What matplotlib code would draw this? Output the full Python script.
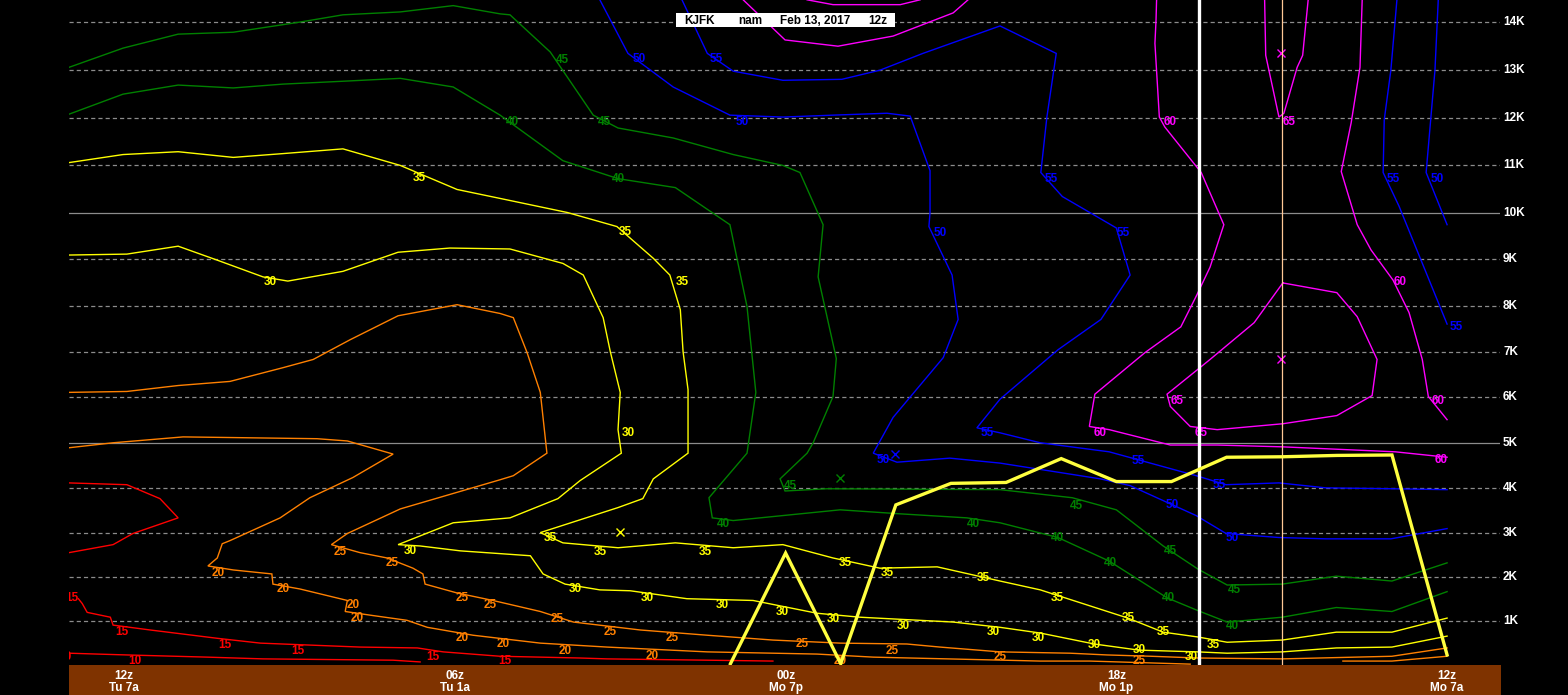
import numpy as np
import matplotlib
matplotlib.use("Agg")
import matplotlib.pyplot as plt
from matplotlib.transforms import blended_transform_factory
from matplotlib.patches import Rectangle

plt.rcParams['lines.scale_dashes'] = False

# ---------------- data (hours before valid end = Mon 12z, heights in kft) ----------------
c10_hr = [25.0, 24.49, 23.95, 22.49, 21.48, 19.12, 18.63]
c10_kft = [0.27, 0.25, 0.23, 0.18, 0.14, 0.11, 0.07]

c15a_hr = [25.0, 23.95, 23.35, 23.02, 23.84, 24.20, 25.0]
c15a_kft = [4.11, 4.07, 3.76, 3.33, 2.98, 2.73, 2.55]
c15b_hr = [24.83, 24.76, 24.67, 24.25, 24.20, 23.53, 22.31, 21.53, 19.72, 18.68, 18.21, 17.18,
           16.45, 15.73, 15.24, 13.42, 12.23]
c15b_kft = [1.51, 1.40, 1.20, 1.09, 0.91, 0.80, 0.61, 0.50, 0.41, 0.39, 0.30, 0.20,
            0.18, 0.16, 0.14, 0.11, 0.09]

c20a_hr = [25.0, 24.20, 22.93, 20.50, 19.95, 19.12, 19.85, 20.63, 21.17, 22.08, 22.22, 22.31, 22.48,
           22.02, 21.32, 21.30, 20.81, 19.95, 19.99, 19.50, 18.87, 18.50, 17.67, 16.45, 15.24,
           13.42, 11.43, 10.41, 7.38, 6.48, 4.66]
c20a_kft = [4.89, 5.0, 5.13, 5.09, 5.04, 4.75, 4.23, 3.78, 3.33, 2.82, 2.75, 2.43, 2.25,
            2.16, 2.07, 1.84, 1.73, 1.47, 1.22, 1.13, 1.02, 0.86, 0.68, 0.50, 0.41,
            0.30, 0.25, 0.18, 0.09, 0.09, 0.02]
c20b_hr = [1.89, 1.0, 0.0]
c20b_kft = [0.09, 0.09, 0.20]

c25_hr = [25.0, 23.95, 23.02, 22.08, 21.12, 20.57, 19.90, 19.03, 17.96, 17.18, 16.94, 16.69, 16.45,
          16.33, 16.94, 17.18, 18.99, 19.95, 20.24, 19.72, 19.23, 18.76, 18.58, 18.54, 17.96,
          17.31, 16.45, 15.85, 14.64, 13.42, 12.23, 11.01, 9.80, 9.20, 8.11, 6.84, 6.17, 5.37,
          4.52, 2.99, 1.0, 0.0]
c25_kft = [6.11, 6.13, 6.26, 6.35, 6.65, 6.83, 7.26, 7.78, 8.02, 7.83, 7.74, 6.98, 6.11,
           4.77, 4.27, 4.18, 3.53, 2.98, 2.73, 2.55, 2.43, 2.20, 2.07, 1.84, 1.64,
           1.47, 1.22, 0.98, 0.80, 0.68, 0.57, 0.50, 0.48, 0.41, 0.30, 0.27, 0.23, 0.20,
           0.16, 0.14, 0.20, 0.39]

c30_hr = [25.0, 23.95, 23.02, 22.31, 21.48, 21.03, 20.03, 19.03, 18.09, 17.0, 16.04, 15.67, 15.31,
          15.18, 15.0, 15.04, 14.98, 15.73, 16.13, 17.0, 18.03, 19.03, 18.63, 17.90, 16.63, 16.40,
          16.0, 15.37, 14.82, 13.79, 12.59, 11.43, 10.65, 8.96, 8.11, 7.38, 6.40, 5.59, 4.52,
          3.99, 2.99, 2.01, 1.0, 0.0]
c30_kft = [9.09, 9.11, 9.28, 8.98, 8.62, 8.53, 8.74, 9.15, 9.24, 9.22, 8.91, 8.66, 7.74,
           7.0, 6.11, 5.29, 4.77, 4.16, 3.76, 3.33, 3.22, 2.73, 2.70, 2.59, 2.48, 2.07,
           1.84, 1.71, 1.69, 1.51, 1.47, 1.18, 1.09, 0.98, 0.86, 0.73, 0.48, 0.34, 0.30,
           0.27, 0.30, 0.39, 0.41, 0.66]

c35_hr = [25.0, 24.02, 23.02, 22.02, 21.12, 20.03, 18.99, 17.96, 17.18, 15.96, 15.06, 14.40, 14.10,
          13.91, 13.86, 13.77, 13.77, 14.40, 14.59, 15.04, 16.45, 16.04, 15.04, 14.0, 12.95, 12.05,
          11.14, 10.29, 9.25, 8.11, 7.38, 5.79, 5.15, 4.52, 3.99, 2.99, 2.01, 1.0, 0.0]
c35_kft = [11.06, 11.23, 11.29, 11.17, 11.25, 11.35, 11.0, 10.49, 10.30, 10.0, 9.70, 9.02, 8.66,
           7.91, 7.0, 6.17, 4.77, 4.20, 3.76, 3.56, 3.0, 2.77, 2.66, 2.77, 2.66, 2.73,
           2.43, 2.20, 2.23, 1.91, 1.71, 1.07, 0.75, 0.64, 0.52, 0.57, 0.75, 0.75, 1.07]

c40_hr = [25.0, 24.02, 23.02, 22.02, 21.12, 20.03, 18.99, 18.03, 17.18, 16.04, 15.04, 14.0, 13.01,
          12.70, 12.54, 12.70, 13.39, 13.33, 12.95, 11.01, 9.92, 8.71, 8.11, 7.06, 6.13, 5.08,
          4.52, 3.99, 2.99, 2.01, 1.0, 0.0]
c40_kft = [12.08, 12.5, 12.69, 12.63, 12.71, 12.77, 12.83, 12.65, 12.06, 11.10, 10.72, 10.53, 9.74,
           7.98, 6.11, 4.77, 3.78, 3.33, 3.27, 3.51, 3.42, 3.33, 3.22, 2.89, 2.36, 1.53,
           1.24, 0.98, 1.09, 1.31, 1.22, 1.67]

c45_hr = [25.0, 24.02, 23.02, 22.02, 20.81, 20.03, 18.99, 18.03, 17.18, 17.0, 16.27, 15.49, 15.04,
          14.04, 12.95, 12.05, 11.74, 11.32, 11.41, 11.08, 11.14, 11.50, 11.61, 12.10, 12.01,
          11.25, 8.11, 6.80, 6.0, 5.15, 4.52, 3.99, 2.99, 2.01, 1.0, 0.0]
c45_kft = [13.06, 13.46, 13.75, 13.79, 14.0, 14.15, 14.21, 14.34, 14.17, 14.15, 13.38, 12.06, 11.79,
           11.58, 11.23, 11.0, 10.85, 9.74, 8.62, 6.85, 6.02, 5.0, 4.77, 4.20, 3.93,
           3.98, 3.96, 3.78, 3.51, 2.70, 2.18, 1.82, 1.84, 2.02, 1.91, 2.32]

c50_hr = [15.37, 14.86, 14.04, 13.01, 12.05, 11.14, 10.16, 9.74, 9.38, 9.38, 9.40, 8.98, 8.87,
          9.14, 10.05, 10.41, 9.98, 9.02, 8.11, 6.29, 5.75, 4.55, 4.01, 3.05, 2.20, 1.02, 0.0]
c50_kft = [14.46, 13.35, 12.65, 12.06, 12.02, 12.06, 12.10, 12.04, 10.89, 10.0, 9.70, 8.66, 7.70,
           6.87, 5.56, 4.77, 4.57, 4.66, 4.55, 4.20, 4.05, 3.38, 2.98, 2.89, 2.86, 2.86, 3.09]
c50r_hr = [0.16, 0.22, 0.38, 0.0]
c50r_kft = [14.46, 13.0, 10.85, 9.74]

c55_hr = [13.88, 13.42, 12.95, 12.05, 10.98, 10.29, 9.51, 8.11, 7.09, 7.26, 7.37, 6.98, 6.0,
          5.75, 6.28, 7.06, 8.11, 8.53, 8.11, 7.38, 6.13, 4.55, 4.01, 3.05, 2.20, 1.02, 0.0]
c55_kft = [14.46, 13.35, 12.98, 12.79, 12.81, 13.0, 13.35, 13.92, 13.35, 12.02, 10.85, 10.34, 9.67,
           8.66, 7.70, 7.04, 5.96, 5.33, 5.22, 5.0, 4.80, 4.27, 4.07, 4.11, 4.0, 3.98, 3.96]
c55r_hr = [0.91, 1.02, 1.14, 1.16, 0.87, 0.0]
c55r_kft = [14.46, 13.0, 11.96, 10.85, 10.13, 7.60]

c60_hr = [5.27, 5.28, 5.30, 5.22, 5.12, 4.55, 4.46, 4.05, 4.30, 4.54, 4.83, 5.48, 6.39, 6.49,
          6.13, 5.02, 4.17, 2.98, 0.94, 0.0]
c60_kft = [14.46, 14.04, 13.56, 12.02, 11.81, 10.98, 10.85, 9.74, 8.83, 8.23, 7.54, 6.98, 6.07, 5.36,
           5.29, 4.95, 4.95, 4.91, 4.80, 4.68]
c60r_hr = [1.54, 1.58, 1.74, 1.92, 1.63, 1.38, 0.98, 0.69, 0.45, 0.34, 0.0]
c60r_kft = [14.46, 13.06, 11.90, 10.87, 9.74, 9.20, 8.55, 7.85, 6.83, 6.02, 5.51]
c60t_hr = [12.77, 12.01, 11.05, 10.05, 8.96, 8.69]
c60t_kft = [14.46, 13.63, 13.50, 13.71, 14.19, 14.46]
c60t2_hr = [11.61, 11.14, 9.92, 9.56]
c60t2_kft = [14.46, 14.36, 14.36, 14.46]

c65t_hr = [3.31, 3.29, 3.05, 2.96, 2.72, 2.62, 2.52]
c65t_kft = [14.46, 13.31, 12.02, 12.10, 13.06, 13.31, 14.46]
c65l_hr = [2.98, 2.0, 1.63, 1.27, 1.36, 2.0, 2.98, 4.17, 4.66, 5.02, 5.08, 4.30, 3.50, 2.98]
c65l_kft = [8.49, 8.28, 7.76, 6.83, 6.04, 5.60, 5.42, 5.29, 5.36, 5.80, 6.07, 6.83, 7.63, 8.49]

# contour labels (value, hours, kft)
lab10_hr = [25.08, 23.80]
lab10_kft = [0.18, 0.09]
lab15_hr = [24.94, 24.04, 22.17, 20.84, 18.39, 17.09]
lab15_kft = [1.53, 0.75, 0.45, 0.32, 0.18, 0.09]
lab20_hr = [22.29, 21.12, 19.85, 19.77, 17.87, 17.12, 16.0, 14.42, 11.01]
lab20_kft = [2.09, 1.73, 1.36, 1.07, 0.61, 0.48, 0.32, 0.20, 0.09]
lab25_hr = [20.08, 19.14, 17.87, 17.36, 16.15, 15.18, 14.06, 11.70, 10.07, 8.11, 5.59]
lab25_kft = [2.57, 2.32, 1.53, 1.36, 1.04, 0.75, 0.61, 0.48, 0.32, 0.18, 0.09]
lab30_hr = [21.35, 14.86, 18.81, 15.82, 14.51, 13.15, 12.06, 11.14, 9.87, 8.24, 7.42, 6.40, 5.59, 4.64]
lab30_kft = [8.51, 5.22, 2.59, 1.73, 1.53, 1.36, 1.20, 1.04, 0.89, 0.75, 0.61, 0.45, 0.34, 0.18]
lab35_hr = [18.65, 14.91, 13.88, 16.27, 15.37, 13.46, 10.92, 10.16, 8.42, 7.07, 5.79, 5.15, 4.24]
lab35_kft = [10.74, 9.59, 8.51, 2.89, 2.57, 2.57, 2.32, 2.09, 1.98, 1.53, 1.07, 0.75, 0.45]
lab40_hr = [16.96, 15.04, 13.13, 8.60, 7.06, 6.11, 5.06, 3.90]
lab40_kft = [11.92, 10.72, 3.20, 3.20, 2.89, 2.32, 1.53, 0.89]
lab45_hr = [16.04, 15.29, 11.92, 6.73, 5.02, 3.86]
lab45_kft = [13.21, 11.92, 4.05, 3.60, 2.59, 1.71]
lab50_hr = [14.66, 12.79, 9.20, 10.23, 4.99, 3.90, 0.18]
lab50_kft = [13.23, 11.92, 9.57, 4.61, 3.62, 2.89, 10.72]
lab55_hr = [13.26, 7.18, 5.88, 8.34, 5.61, 4.14, 0.98, -0.16]
lab55_kft = [13.23, 10.72, 9.57, 5.22, 4.59, 4.07, 10.72, 7.54]
lab60_hr = [5.02, 6.29, 0.11, 0.85, 0.16]
lab60_kft = [11.92, 5.22, 4.61, 8.51, 5.91]
lab65_hr = [2.87, 4.90, 4.46]
lab65_kft = [11.92, 5.91, 5.22]

# centre markers
mark_hr = [15.0, 11.01, 10.01, 3.01, 3.01]
mark_kft = [3.02, 4.23, 4.75, 13.35, 6.85]

# thick yellow line (hourly)
mix_hr = [13, 12, 11, 10, 9, 8, 7, 6, 5, 4, 3, 2, 1, 0]
mix_kft = [0.03, 2.54, 0.03, 3.62, 4.10, 4.12, 4.65, 4.14, 4.14, 4.68, 4.69, 4.72, 4.73, 0.23]

# axis labelling
height_ticks = list(range(1, 15))
time_tick_hr = [24, 18, 12, 6, 0]
time_top = ['12z', '06z', '00z', '18z', '12z']
time_bot = ['Tu 7a', 'Tu 1a', 'Mo 7p', 'Mo 1p', 'Mo 7a']
now_hr = 4.5
ref_hr = 3.0
title_parts = ['KJFK', 'nam', 'Feb 13, 2017', '12z']

# ---------------- colours ----------------
RED, ORANGE, YELLOW, GREEN, BLUE, MAGENTA = '#FF0000', '#FF8000', '#FFFF00', '#008000', '#0000FF', '#FF00FF'

# ---------------- figure ----------------
W, H = 1568, 695
fig = plt.figure(figsize=(W / 100, H / 100), dpi=100, facecolor='black')
ax = fig.add_axes([69 / W, 30 / H, (1500 - 69) / W, 665 / H])
ax.set_facecolor('black')


def fwd(k):
    k = np.asarray(k, dtype=float)
    return -np.log(np.clip(1 - 0.0068756 * k, 1e-6, None))


def inv(u):
    u = np.asarray(u, dtype=float)
    return (1 - np.exp(-u)) / 0.0068756


ax.set_yscale('function', functions=(fwd, inv))
ax.set_xlim(25, -0.96)
ax.set_ylim(0, 14.456)
for s in ax.spines.values():
    s.set_visible(False)
ax.set_xticks([])
ax.set_yticks([])
ax.yaxis.set_minor_locator(matplotlib.ticker.NullLocator())

# grid lines
for k in height_ticks:
    if k in (5, 10):
        ax.axhline(k, color='#8C8C8C', lw=0.9, zorder=1)
    else:
        ax.axhline(k, color='#8C8C8C', lw=0.9, ls=(0, (3.0, 2.2)), zorder=1)

contours = [
    (c10_hr, c10_kft, RED), (c15a_hr, c15a_kft, RED), (c15b_hr, c15b_kft, RED),
    (c20a_hr, c20a_kft, ORANGE), (c20b_hr, c20b_kft, ORANGE), (c25_hr, c25_kft, ORANGE),
    (c30_hr, c30_kft, YELLOW), (c35_hr, c35_kft, YELLOW),
    (c40_hr, c40_kft, GREEN), (c45_hr, c45_kft, GREEN),
    (c50_hr, c50_kft, BLUE), (c50r_hr, c50r_kft, BLUE), (c55_hr, c55_kft, BLUE), (c55r_hr, c55r_kft, BLUE),
    (c60_hr, c60_kft, MAGENTA), (c60r_hr, c60r_kft, MAGENTA), (c60t_hr, c60t_kft, MAGENTA),
    (c60t2_hr, c60t2_kft, MAGENTA), (c65t_hr, c65t_kft, MAGENTA), (c65l_hr, c65l_kft, MAGENTA),
]
for xs, ys, col in contours:
    ax.plot(xs, ys, color=col, lw=1.0, zorder=2, solid_joinstyle='miter')

labels = [
    ('10', lab10_hr, lab10_kft, RED), ('15', lab15_hr, lab15_kft, RED),
    ('20', lab20_hr, lab20_kft, ORANGE), ('25', lab25_hr, lab25_kft, ORANGE),
    ('30', lab30_hr, lab30_kft, YELLOW), ('35', lab35_hr, lab35_kft, YELLOW),
    ('40', lab40_hr, lab40_kft, GREEN), ('45', lab45_hr, lab45_kft, GREEN),
    ('50', lab50_hr, lab50_kft, BLUE), ('55', lab55_hr, lab55_kft, BLUE),
    ('60', lab60_hr, lab60_kft, MAGENTA), ('65', lab65_hr, lab65_kft, MAGENTA),
]
for txt, xs, ys, col in labels:
    for x, y in zip(xs, ys):
        ax.text(x, y, txt, color=col, fontsize=8.5, family='Liberation Sans', weight='bold',
                ha='center', va='center', zorder=3, clip_on=True)

mark_cols = [YELLOW, GREEN, BLUE, MAGENTA, MAGENTA]
for x, y, c in zip(mark_hr, mark_kft, mark_cols):
    ax.plot([x], [y], marker='x', color=c, ms=6, mew=1.0, zorder=3)

# vertical time lines
ax.axvline(now_hr, color='white', lw=2.4, zorder=4)
ax.axvline(ref_hr, color='#FFC896', lw=0.9, zorder=4)

# thick yellow line
ax.plot(mix_hr, mix_kft, color='#FFFF40', lw=2.4, zorder=5, solid_joinstyle='miter')

# brown time bar
bax = fig.add_axes([69 / W, 0, (1501 - 69) / W, 30 / H])
bax.set_facecolor('#7F3300')
bax.set_xticks([])
bax.set_yticks([])
for s in bax.spines.values():
    s.set_visible(False)
bax.set_zorder(-1)

tr_time = blended_transform_factory(ax.transData, fig.transFigure)
for x, t1, t2 in zip(time_tick_hr, time_top, time_bot):
    fig.text(x, 1 - 676 / H, t1, transform=tr_time, color='white', fontsize=8.5,
             family='Liberation Sans', weight='bold', ha='center', va='center', zorder=10)
    fig.text(x, 1 - 688 / H, t2, transform=tr_time, color='white', fontsize=8.5,
             family='Liberation Sans', weight='bold', ha='center', va='center', zorder=10)

# height labels on the right
tr_h = blended_transform_factory(fig.transFigure, ax.transData)
for k in height_ticks:
    fig.text(1503 / W, k, f'{k}K', transform=tr_h, color='white', fontsize=8.5,
             family='Liberation Sans', weight='bold', ha='left', va='center', zorder=10)

# title box
fig.patches.append(Rectangle((676 / W, 1 - 27 / H), 219 / W, 14 / H, transform=fig.transFigure,
                             facecolor='white', edgecolor='none', zorder=20))
for xpix, t in zip([684, 738, 780, 868], title_parts):
    fig.text(xpix / W, 1 - 20.5 / H, t, color='black', fontsize=8.5, family='Liberation Sans',
             weight='bold', ha='left', va='center', zorder=21)

fig.savefig('out.png', dpi=100, facecolor='black')
